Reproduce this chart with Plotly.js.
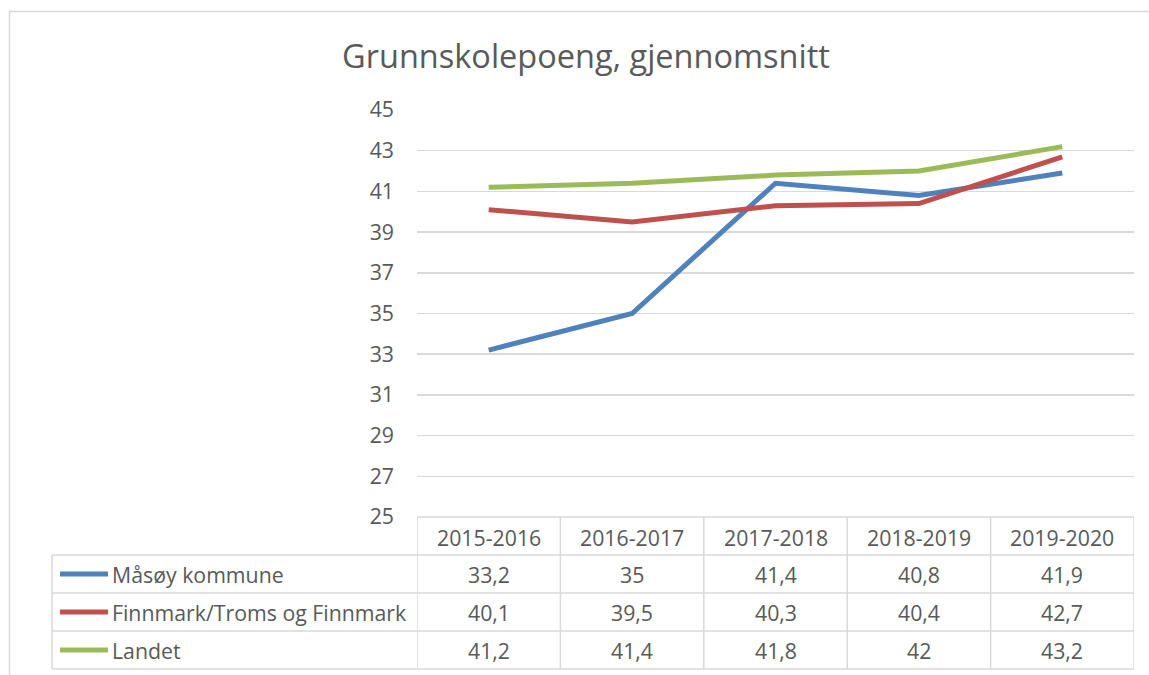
<!DOCTYPE html>
<html>
<head>
<meta charset="utf-8">
<script src="https://cdn.plot.ly/plotly-3.0.1.min.js"></script>
<style>html,body{margin:0;padding:0;background:#fff;}#chart{width:1149px;height:675px;}</style>
</head>
<body>
<div id="chart"></div>
<script>
const categories = ["2015-2016", "2016-2017", "2017-2018", "2018-2019", "2019-2020"];
const seriesNames = ["Måsøy kommune", "Finnmark/Troms og Finnmark", "Landet"];
const masoy = [33.2, 35, 41.4, 40.8, 41.9];
const finnmark = [40.1, 39.5, 40.3, 40.4, 42.7];
const landet = [41.2, 41.4, 41.8, 42, 43.2];
const yTicks = [25, 27, 29, 31, 33, 35, 37, 39, 41, 43, 45];
const seriesValues = [masoy, finnmark, landet];
const colors = ["#4f81bd", "#c0504d", "#9bbb59"];

const W = 1149, H = 675;
const px = x => x / W;
const py = y => 1 - y / H;
const FONT = "'Open Sans', sans-serif";
const TXT = "#595959";
const GRID = "#d9d9d9";
const FS = 21.3;

const plotL = 417, plotR = 1134, plotT = 110, plotB = 517;
const rowLines = [517, 555, 593, 631, 669];
const rowCenters = [574, 612, 650];

const traces = seriesValues.map((vals, i) => ({
  type: "scatter", mode: "lines", x: categories, y: vals, name: seriesNames[i],
  line: {color: colors[i], width: 5}, hoverinfo: "x+y+name"
}));

const shapes = [];
const annotations = [];
// outer chart border
shapes.push({type: "rect", xref: "paper", yref: "paper", x0: px(9.5), x1: px(1160), y0: py(11.5), y1: py(690), line: {color: GRID, width: 1.5}});
// table horizontal lines
shapes.push({type: "line", xref: "paper", yref: "paper", x0: px(plotL), x1: px(plotR), y0: py(rowLines[0]), y1: py(rowLines[0]), line: {color: GRID, width: 1.5}});
shapes.push({type: "line", xref: "paper", yref: "paper", x0: px(plotL), x1: px(plotR), y0: py(rowLines[1]), y1: py(rowLines[1]), line: {color: GRID, width: 1.5}});
for (let r = 2; r < rowLines.length; r++) {
  shapes.push({type: "line", xref: "paper", yref: "paper", x0: px(52), x1: px(plotR), y0: py(rowLines[r]), y1: py(rowLines[r]), line: {color: GRID, width: 1.5}});
}
shapes.push({type: "line", xref: "paper", yref: "paper", x0: px(52), x1: px(plotL), y0: py(rowLines[1]), y1: py(rowLines[1]), line: {color: GRID, width: 1.5}});
// left border of legend column
shapes.push({type: "line", xref: "paper", yref: "paper", x0: px(52), x1: px(52), y0: py(rowLines[1]), y1: py(rowLines[4]), line: {color: GRID, width: 1.5}});
// vertical column lines
for (let i = 0; i <= categories.length; i++) {
  shapes.push({type: "line", xref: "x", yref: "paper", x0: i - 0.5, x1: i - 0.5, y0: py(rowLines[0]), y1: py(rowLines[4]), line: {color: GRID, width: 1.5}});
}
// header labels
categories.forEach((c, i) => {
  annotations.push({xref: "x", yref: "paper", x: i, y: py(537), text: c, showarrow: false, xanchor: "center", yanchor: "middle", font: {family: FONT, size: FS, color: TXT}});
});
// rows
seriesNames.forEach((n, r) => {
  shapes.push({type: "line", xref: "paper", yref: "paper", x0: px(60), x1: px(108), y0: py(rowCenters[r]), y1: py(rowCenters[r]), line: {color: colors[r], width: 5}});
  annotations.push({xref: "paper", yref: "paper", x: px(110), y: py(rowCenters[r]), text: n, showarrow: false, xanchor: "left", yanchor: "middle", font: {family: FONT, size: FS, color: TXT}});
  seriesValues[r].forEach((v, i) => {
    annotations.push({xref: "x", yref: "paper", x: i, y: py(rowCenters[r]), text: String(v).replace(".", ","), showarrow: false, xanchor: "center", yanchor: "middle", font: {family: FONT, size: FS, color: TXT}});
  });
});

const layout = {
  width: W, height: H,
  margin: {l: 0, r: 0, t: 0, b: 0},
  paper_bgcolor: "#fff", plot_bgcolor: "#fff",
  showlegend: false,
  title: {text: "Grunnskolepoeng, gjennomsnitt", x: px(586), xanchor: "center", y: py(57), yanchor: "middle", font: {family: FONT, size: 32.5, color: TXT}},
  xaxis: {type: "category", range: [-0.5, 4.5], domain: [px(plotL), px(plotR)], showticklabels: false, showgrid: false, zeroline: false, showline: false, fixedrange: true},
  yaxis: {range: [25, 45], domain: [py(plotB), py(plotT)], tickvals: yTicks, ticktext: yTicks.map(String), showgrid: true, gridcolor: GRID, gridwidth: 1.5, zeroline: false, showline: false, ticks: "", ticklabelstandoff: 22, tickfont: {family: FONT, size: FS, color: TXT}, fixedrange: true},
  shapes: shapes,
  annotations: annotations
};

Plotly.newPlot("chart", traces, layout, {displayModeBar: false, staticPlot: true});
</script>
</body>
</html>
